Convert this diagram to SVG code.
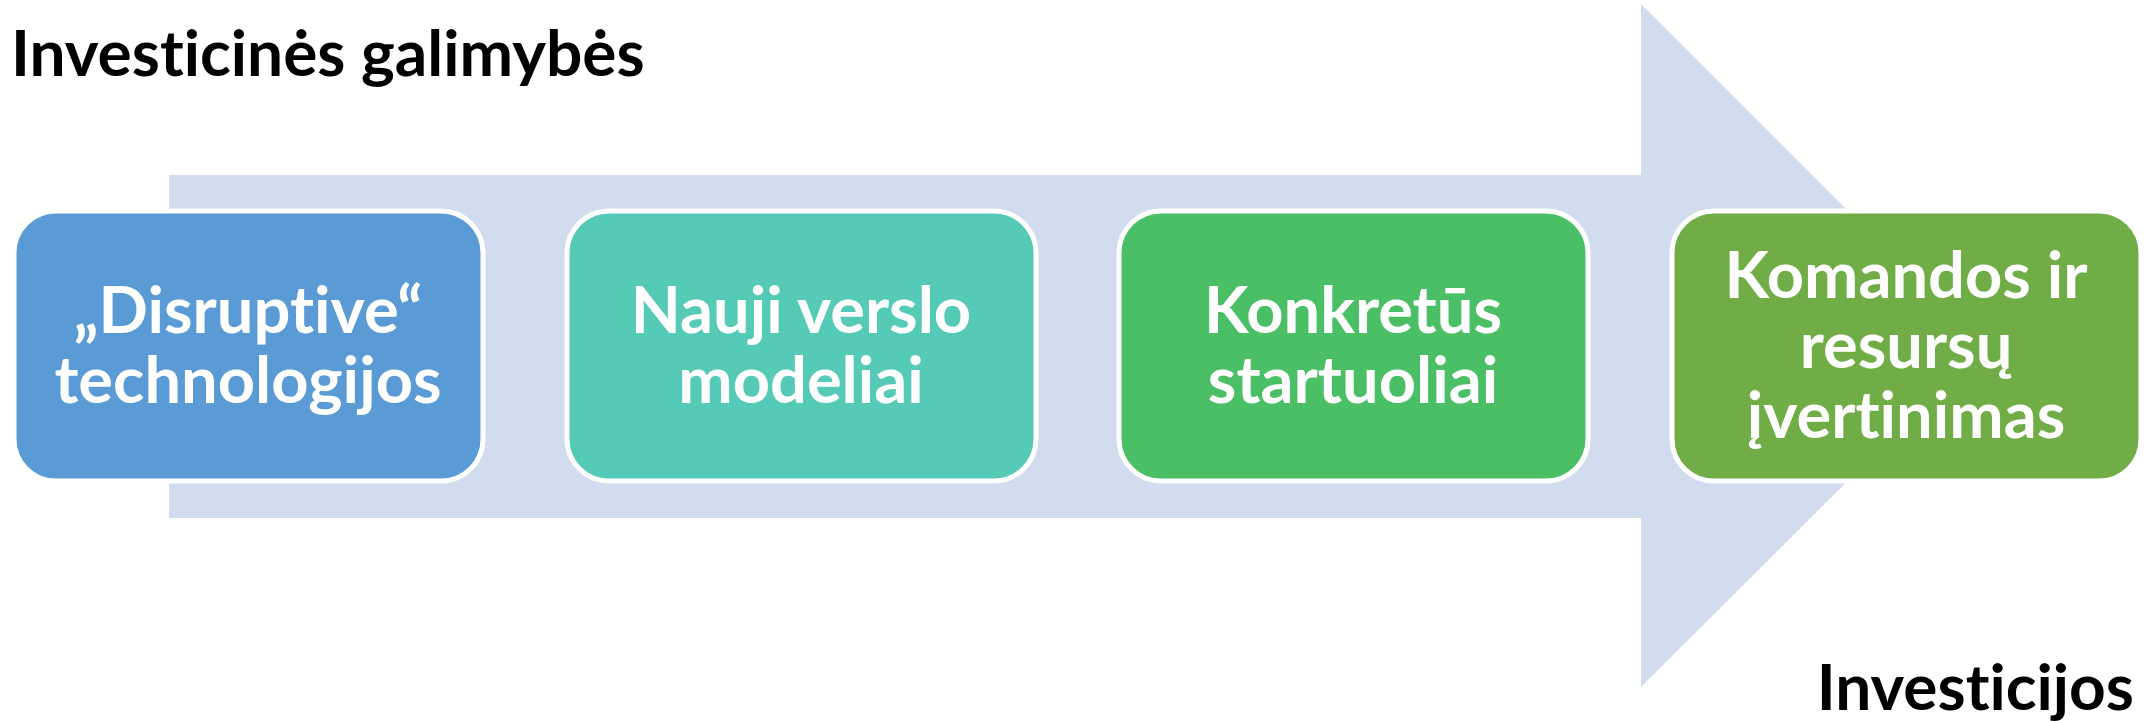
<svg xmlns="http://www.w3.org/2000/svg" width="2155" height="721" viewBox="0 0 2155 721">
<style>
text{font-variant-ligatures:none;font-feature-settings:"liga" 0,"clig" 0}
.box{stroke:#ffffff;stroke-width:5}
.bt{font-family:Lato,"Liberation Sans",sans-serif;font-weight:bold;font-size:65px;fill:#ffffff;text-anchor:middle}
.lbl{font-family:Lato,"Liberation Sans",sans-serif;font-weight:bold;font-size:64px;fill:#000000}
</style>
<rect width="2155" height="721" fill="#ffffff"/>
<g id="connectors">
<polygon points="169,175 1641,175 1641,4 1983,346 1641,687 1641,518 169,518" fill="#D1DDEE"/>
</g>
<g id="title"><text class="lbl" x="11" y="76">Investicinės galimybės</text></g>
<g id="bottom-label"><text class="lbl" x="2134" y="710" text-anchor="end">Investicijos</text></g>
<g id="node1">
<rect class="box" x="14" y="211" width="469" height="270" rx="42" ry="42" fill="#5B9BD5"/>
<text class="bt" x="248" y="333">„Disruptive“</text>
<text class="bt" x="248" y="403">technologijos</text>
</g>
<g id="node2">
<rect class="box" x="567" y="211" width="469" height="270" rx="42" ry="42" fill="#55CAB6"/>
<text class="bt" x="801" y="333">Nauji verslo</text>
<text class="bt" x="801" y="403">modeliai</text>
</g>
<g id="node3">
<rect class="box" x="1119" y="211" width="469" height="270" rx="42" ry="42" fill="#4ABF66"/>
<text class="bt" x="1353" y="333">Konkretūs</text>
<text class="bt" x="1353" y="403">startuoliai</text>
</g>
<g id="node4">
<rect class="box" x="1672" y="211" width="469" height="270" rx="42" ry="42" fill="#70AD47"/>
<text class="bt" x="1906" y="298">Komandos ir</text>
<text class="bt" x="1906" y="368">resursų</text>
<text class="bt" x="1906" y="438">įvertinimas</text>
</g>
</svg>
